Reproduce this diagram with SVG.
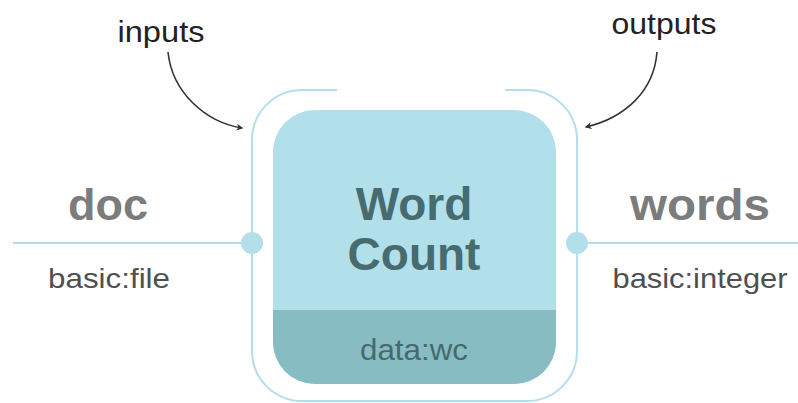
<svg xmlns="http://www.w3.org/2000/svg" width="798" height="403" viewBox="0 0 798 403">
<defs>
<style>
.lbl{font-family:"Liberation Sans",Arial,sans-serif;}
.pname{font-size:44px;font-weight:bold;fill:#7c7c7c;text-anchor:middle;}
.ptype{font-size:28px;fill:#4f4f4f;text-anchor:middle;}
.note{font-size:30px;fill:#222;text-anchor:middle;}
.wire{stroke:#b3dfea;stroke-width:2;fill:none;}
.port{fill:#b3dfea;}
.arrow{stroke:#333;stroke-width:1.6;fill:none;}
</style>
<marker id="ah" viewBox="0 0 10 10" refX="8" refY="5" markerWidth="7" markerHeight="7" orient="auto" markerUnits="userSpaceOnUse">
<path d="M0,0 L10,5 L0,10 L3,5 Z" fill="#333"/>
</marker>
<clipPath id="boxclip"><rect x="273" y="110" width="283" height="274" rx="42" ry="42"/></clipPath>
</defs>
<g id="connectors">
<line class="wire" x1="13" y1="243" x2="252" y2="243"/>
<line class="wire" x1="577" y1="243" x2="798" y2="243"/>
<path class="arrow" d="M168,52 C172,92 205,122 242,128" marker-end="url(#ah)"/>
<path class="arrow" d="M657,52 C654,92 624,118 586,127" marker-end="url(#ah)"/>
</g>
<g id="frame">
<path class="wire" d="M337,90 H302 A50,50 0 0 0 252,140 V351 A50,50 0 0 0 302,401 H527 A50,50 0 0 0 577,351 V140 A50,50 0 0 0 527,90 H505"/>
</g>
<g id="node-wordcount">
<g clip-path="url(#boxclip)">
<rect x="273" y="110" width="283" height="274" fill="#b1dfea"/>
<rect x="273" y="310" width="283" height="74" fill="#88bcc3"/>
</g>
<text class="lbl" x="414" y="220" font-size="46" font-weight="bold" fill="#476b6f" text-anchor="middle">Word</text>
<text class="lbl" x="414" y="270" font-size="46" font-weight="bold" fill="#476b6f" text-anchor="middle">Count</text>
<text class="lbl" x="414" y="360" font-size="29" fill="#456a6e" text-anchor="middle" textLength="108" lengthAdjust="spacingAndGlyphs">data:wc</text>
</g>
<g id="port-in">
<circle class="port" cx="252" cy="243" r="11"/>
<text class="lbl pname" x="108" y="220" textLength="80" lengthAdjust="spacingAndGlyphs">doc</text>
<text class="lbl ptype" x="109" y="288" textLength="122" lengthAdjust="spacingAndGlyphs">basic:file</text>
</g>
<g id="port-out">
<circle class="port" cx="577" cy="243" r="11"/>
<text class="lbl pname" x="700" y="220" textLength="140" lengthAdjust="spacingAndGlyphs">words</text>
<text class="lbl ptype" x="700" y="288" textLength="175" lengthAdjust="spacingAndGlyphs">basic:integer</text>
</g>
<g id="note-inputs">
<text class="lbl note" x="161" y="42" textLength="87" lengthAdjust="spacingAndGlyphs">inputs</text>
</g>
<g id="note-outputs">
<text class="lbl note" x="664" y="34" textLength="105" lengthAdjust="spacingAndGlyphs">outputs</text>
</g>
</svg>
